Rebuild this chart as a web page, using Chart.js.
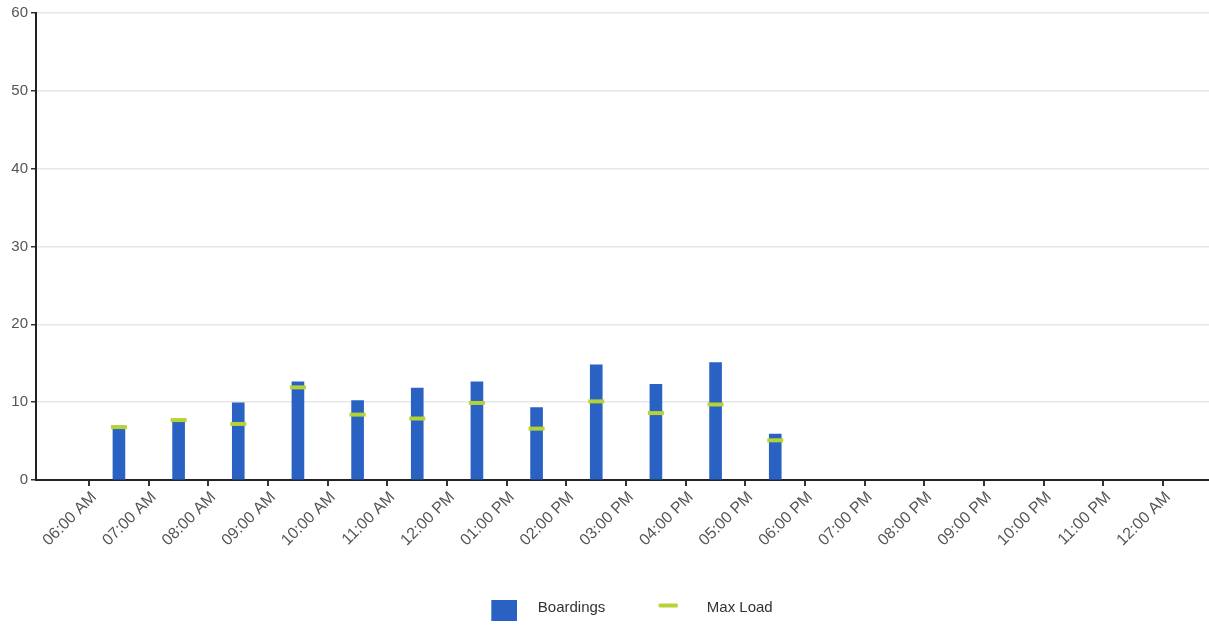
<!DOCTYPE html>
<html>
<head>
<meta charset="utf-8">
<script src="https://cdn.jsdelivr.net/npm/chart.js@4.4.1/dist/chart.umd.min.js"></script>
<style>
  html, body { margin: 0; padding: 0; background: #fff; }
  #wrap { width: 1209px; height: 625px; position: relative; }
</style>
</head>
<body>
<div id="wrap"><canvas id="loadChart"></canvas></div>
<script>
// hour axis labels (one per hour tick, 6 = 06:00 AM)
const hourLabels = ['06:00 AM', '07:00 AM', '08:00 AM', '09:00 AM', '10:00 AM', '11:00 AM',
    '12:00 PM', '01:00 PM', '02:00 PM', '03:00 PM', '04:00 PM', '05:00 PM', '06:00 PM',
    '07:00 PM', '08:00 PM', '09:00 PM', '10:00 PM', '11:00 PM', '12:00 AM'];
const firstHour = 6;

// trips, by hour of day (middle of each hour)
const tripHours = [6.5, 7.5, 8.5, 9.5, 10.5, 11.5, 12.5, 13.5, 14.5, 15.5, 16.5, 17.5];
const boardings = [6.6, 7.6, 9.9, 12.6, 10.2, 11.8, 12.6, 9.3, 14.8, 12.3, 15.1, 5.9];
const maxLoad = [6.8, 7.7, 7.2, 11.9, 8.4, 7.9, 9.9, 6.6, 10.1, 8.6, 9.7, 5.1];

const yMin = 0;
const yMax = 60;
const yStep = 10;

const blue = '#2a62c4';
const green = '#b6d335';

document.addEventListener('DOMContentLoaded', function () {
    const ctx = document.getElementById('loadChart').getContext('2d');

    // small canvases used as legend markers
    function makeIcon(w, h, draw) {
        const c = document.createElement('canvas');
        c.width = w;
        c.height = h;
        draw(c.getContext('2d'));
        return c;
    }
    const boxIcon = makeIcon(68, 26, g => {
        g.fillStyle = blue;
        g.fillRect(42, 0, 26, 26);
    });
    const dashIcon = makeIcon(52, 10, g => {
        g.strokeStyle = green;
        g.lineWidth = 4;
        g.lineCap = 'round';
        g.beginPath();
        g.moveTo(34, 3);
        g.lineTo(50, 3);
        g.stroke();
    });

    new Chart(ctx, {
        type: 'bar',
        data: {
            datasets: [{
                label: 'Boardings',
                data: tripHours.map((h, i) => ({ x: h, y: boardings[i] })),
                backgroundColor: blue,
                barThickness: 12,
                order: 1
            }, {
                type: 'line',
                label: 'Max Load',
                data: tripHours.map((h, i) => ({ x: h, y: maxLoad[i] })),
                showLine: false,
                pointStyle: 'line',
                pointRadius: 8,
                pointBorderWidth: 4,
                pointBorderColor: green,
                pointBackgroundColor: green,
                order: 0
            }]
        },
        options: {
            responsive: true,
            maintainAspectRatio: false,
            animation: false,
            layout: { autoPadding: false, padding: { top: 13, left: 0, right: 0, bottom: 0 } },
            scales: {
                x: {
                    type: 'linear',
                    min: 5.11,
                    max: 24.77,
                    offset: false,
                    afterBuildTicks: s => {
                        s.ticks = s.ticks.filter(t => Number.isInteger(t.value) && t.value >= firstHour);
                    },
                    afterFit: s => {
                        s.height = 120;
                        s.paddingLeft = 0;
                        s.paddingRight = 0;
                    },
                    ticks: {
                        stepSize: 1,
                        autoSkip: false,
                        minRotation: 45,
                        maxRotation: 45,
                        padding: 2,
                        labelOffset: 5,
                        color: '#555',
                        font: { family: 'Liberation Sans, Arial, sans-serif', size: 16 },
                        callback: v => hourLabels[v - firstHour]
                    },
                    grid: { offset: false, drawOnChartArea: false, tickColor: '#333', tickLength: 6, lineWidth: 2 },
                    border: { color: '#222', width: 2 }
                },
                y: {
                    min: yMin,
                    max: yMax,
                    afterFit: s => { s.width = 36; },
                    ticks: {
                        stepSize: yStep,
                        padding: 3,
                        color: '#555',
                        font: { family: 'Liberation Sans, Arial, sans-serif', size: 15 }
                    },
                    grid: { color: '#e6e6e6', lineWidth: 1.5, tickColor: '#333', tickLength: 5 },
                    border: { color: '#222', width: 2 }
                }
            },
            plugins: {
                legend: {
                    position: 'bottom',
                    labels: {
                        usePointStyle: true,
                        pointStyleWidth: 94,
                        padding: 0,
                        color: '#333',
                        font: { family: 'Liberation Sans, Arial, sans-serif', size: 15 },
                        generateLabels: chart => {
                            const items = Chart.defaults.plugins.legend.labels.generateLabels(chart);
                            items.sort((a, b) => a.datasetIndex - b.datasetIndex);
                            items.forEach(it => { it.pointStyle = it.datasetIndex === 0 ? boxIcon : dashIcon; });
                            return items;
                        }
                    }
                },
                tooltip: { enabled: false }
            }
        }
    });
});
</script>
</body>
</html>
